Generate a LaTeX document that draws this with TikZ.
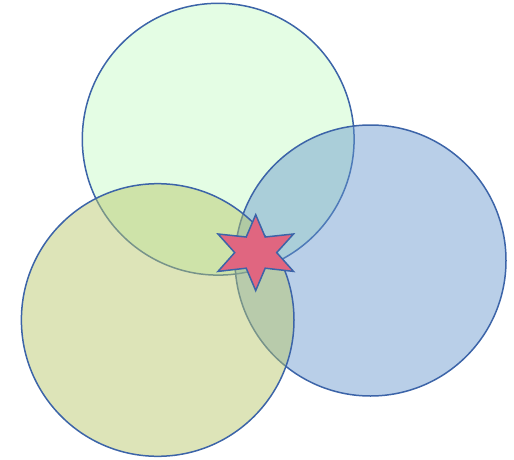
\documentclass[tikz,border=0pt]{standalone}
\begin{document}
\begin{tikzpicture}[x=1pt,y=-1pt]
\definecolor{edgeblue}{RGB}{60,100,168}
\definecolor{greenfill}{RGB}{228,253,228}
\definecolor{bluefill}{RGB}{100,149,204}
\definecolor{olivefill}{RGB}{184,199,106}
\definecolor{starfill}{RGB}{224,102,128}
\tikzset{ring/.style={draw=edgeblue,line width=1.5pt}}
\useasboundingbox (0,0) rectangle (514,460);
% top green circle
\draw[ring,fill=greenfill] (218.2,139.2) circle[radius=135.9];
% right blue circle
\draw[ring,fill=bluefill,fill opacity=0.45] (370.5,260.5) circle[radius=135.5];
% left olive circle
\draw[ring,fill=olivefill,fill opacity=0.48] (157.7,320) circle[radius=136.3];
% six-pointed star
\draw[draw=edgeblue,line width=1.5pt,fill=starfill,line join=miter]
  (255.7,214.7) -- (265.2,237) -- (293.5,234) -- (276.7,252.6) -- (293.5,271.4)
  -- (265.2,268.2) -- (255.7,290.6) -- (246.2,268.2) -- (218,271.4)
  -- (234.7,252.6) -- (218,234) -- (246.2,237) -- cycle;
\end{tikzpicture}
\end{document}
